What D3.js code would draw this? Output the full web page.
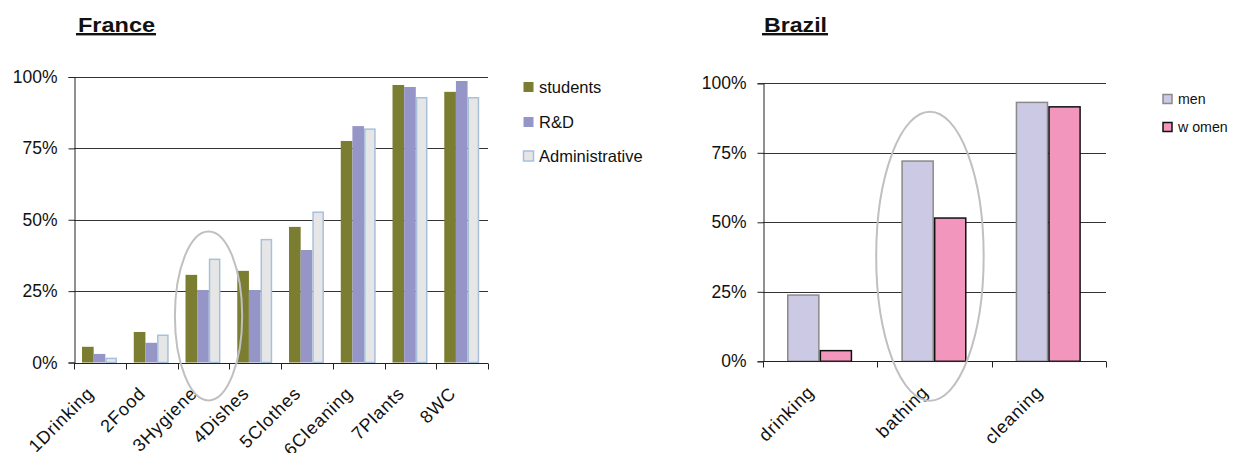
<!DOCTYPE html>
<html><head><meta charset="utf-8">
<script src="https://cdn.jsdelivr.net/npm/d3@7"></script>
<style>
html,body{margin:0;padding:0;background:#fff;}
svg{display:block;font-family:"Liberation Sans",Arial,sans-serif;}
</style></head>
<body>
<svg id="c" width="1243" height="453"></svg>
<script>
// ---- data ----
const franceCategories = ["1Drinking","2Food","3Hygiene","4Dishes","5Clothes","6Cleaning","7Plants","8WC"];
const franceSeries = ["students","R&D","Administrative"];
const students = [5.5,10.7,30.7,32.1,47.5,77.6,97.2,94.8];
const rnd = [3.0,6.9,25.4,25.4,39.4,82.8,96.5,98.6];
const administrative = [1.7,9.8,36.4,43.3,52.9,82.0,93.0,93.0];

const brazilCategories = ["drinking","bathing","cleaning"];
const brazilSeries = ["men","women"];
const men = [24.1,72.3,93.4];
const women = [4.1,51.8,91.8];

const yTicks = [0,25,50,75,100];

// ---- drawing ----
const svg = d3.select("#c");
const gridColor = "#333";

function panel(opt){
  const g = svg.append("g");
  const x0 = d3.scaleBand().domain(opt.cats).range([opt.left,opt.right]).padding(0);
  const bw = x0.bandwidth();
  const x1 = d3.scaleBand().domain(opt.series).range([bw*opt.inL, bw*opt.inR]).padding(0);
  const y = d3.scaleLinear().domain([0,100]).range([opt.bottom,opt.top]);

  // gridlines
  g.selectAll("line.grid").data(yTicks.filter(d=>d>0)).join("line")
    .attr("x1",opt.left).attr("x2",opt.right)
    .attr("y1",d=>Math.round(y(d))+0.5).attr("y2",d=>Math.round(y(d))+0.5)
    .attr("stroke",gridColor).attr("stroke-width",1);

  // bars
  opt.cats.forEach((c,i)=>{
    opt.series.forEach((s,j)=>{
      const v = opt.values[j][i];
      const st = opt.styles[j];
      const sw = st.stroke ? 1.5 : 0;
      g.append("rect")
        .attr("x", x0(c)+x1(s)+sw/2)
        .attr("y", y(v)+sw/2)
        .attr("width", x1.bandwidth()-sw)
        .attr("height", Math.max(0,y(0)-y(v)-sw/2))
        .attr("fill", st.fill)
        .attr("stroke", st.stroke||"none")
        .attr("stroke-width", sw);
    });
  });

  // y axis
  const ya = d3.axisLeft(y).tickValues(yTicks).tickSize(6).tickPadding(11).tickFormat(d=>d+"%");
  const yg = g.append("g").attr("transform",`translate(${opt.left+0.5},0)`).call(ya);
  yg.select(".domain").attr("stroke","#222");
  yg.selectAll(".tick line").attr("stroke","#222");
  yg.selectAll(".tick text").attr("font-size",opt.tickFont).attr("fill","#111")
    .attr("font-family","Liberation Sans, Arial, sans-serif");

  // x axis line with boundary ticks
  const yb = Math.round(y(0))+0.5;
  g.append("line").attr("x1",opt.left).attr("x2",opt.right).attr("y1",yb).attr("y2",yb)
    .attr("stroke","#222").attr("stroke-width",1);
  const bounds = opt.cats.map(c=>x0(c)).concat([opt.right]);
  g.selectAll("line.xt").data(bounds).join("line")
    .attr("x1",d=>Math.round(d)+0.5).attr("x2",d=>Math.round(d)+0.5)
    .attr("y1",yb).attr("y2",yb+6).attr("stroke","#222");

  // x labels rotated
  g.selectAll("text.xl").data(opt.cats).join("text")
    .attr("transform",d=>`translate(${x0(d)+bw/2-5},${y(0)+32}) rotate(-45)`)
    .attr("text-anchor","end")
    .attr("font-size",opt.labelFont).attr("letter-spacing",0.8).attr("fill","#111")
    .text(d=>d);

  // title
  g.append("text").attr("x",opt.titleX).attr("y",32)
    .attr("font-size",21).attr("font-weight","bold").attr("fill","#111")
    .attr("textLength",opt.titleLen).attr("lengthAdjust","spacingAndGlyphs")
    .text(opt.title);
  g.append("rect").attr("x",opt.titleX-2).attr("y",33).attr("width",opt.titleLen+3).attr("height",2.4).attr("fill","#111");

  // legend
  opt.series.forEach((s,j)=>{
    const st = opt.styles[j];
    const cy = opt.legY[j];
    const sz = opt.legSize;
    g.append("rect").attr("x",opt.legX+0.5).attr("y",cy-sz/2+0.5).attr("width",sz-1).attr("height",sz-1)
      .attr("fill",st.fill).attr("stroke",st.legStroke||st.stroke||"none").attr("stroke-width",st.legStroke||st.stroke?1.5:0);
    g.append("text").attr("x",opt.legX+opt.legTextDx).attr("y",cy).attr("dy","0.36em")
      .attr("font-size",opt.legFont).attr("fill","#111").text(opt.legLabels ? opt.legLabels[j] : s);
  });

  // annotation ellipse
  const e = opt.ellipse(x0,bw,y);
  g.append("ellipse").attr("cx",e.cx).attr("cy",e.cy).attr("rx",e.rx).attr("ry",e.ry)
    .attr("fill","none").attr("stroke","#c0c0c0").attr("stroke-width",2);
}

panel({
  cats: franceCategories, series: franceSeries,
  values: [students, rnd, administrative],
  styles: [{fill:"#7b7d31"},{fill:"#9595c8"},{fill:"#e6e6e6",stroke:"#a8c0dc"}],
  left:74, right:488, top:77, bottom:362.5, inL:0.155, inR:0.83,
  tickFont:17.5, labelFont:18,
  title:"France", titleX:78, titleLen:77,
  legX:523, legY:[87,122,156], legSize:11, legTextDx:16, legFont:16.5,
  ellipse:(x0,bw,y)=>({cx:x0("3Hygiene")+bw*0.6, cy:y(16.3), rx:bw*0.65, ry:84.5})
});

panel({
  cats: brazilCategories, series: brazilSeries,
  values: [men, women],
  styles: [{fill:"#ccc9e4",stroke:"#8a8a8a"},{fill:"#f296be",stroke:"#111"}],
  left:763, right:1106, top:83.3, bottom:361.3, inL:0.21, inR:0.78,
  tickFont:17.5, labelFont:18,
  title:"Brazil", titleX:764, titleLen:63,
  legX:1162.5, legY:[99,127], legSize:10, legTextDx:15.5, legFont:14.2,
  legLabels:["men","w omen"],
  ellipse:(x0,bw,y)=>({cx:x0("bathing")+bw*0.46, cy:y(37.8), rx:bw*0.47, ry:144.5})
});
</script>
</body></html>
